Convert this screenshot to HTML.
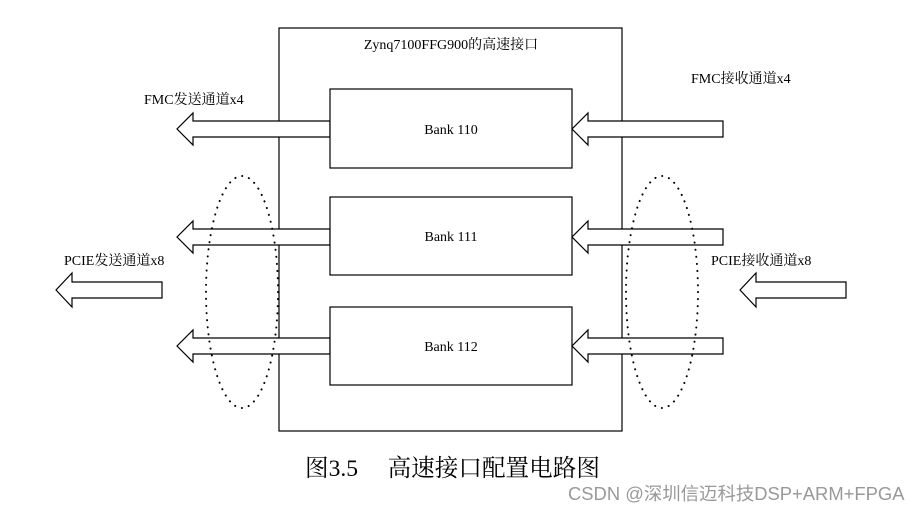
<!DOCTYPE html>
<html><head><meta charset="utf-8"><style>
body{margin:0;background:#fff;}
svg text{font-family:"Liberation Serif","Noto Serif CJK SC",serif;fill:#000;}
</style></head><body>
<svg width="920" height="513" viewBox="0 0 920 513" xmlns="http://www.w3.org/2000/svg">
<g fill="#fff" stroke="#000" stroke-width="1.2">
<rect x="279" y="28" width="343" height="403"/>
<polygon points="330,121 193,121 193,113 177,129 193,145 193,137 330,137"/>
<polygon points="330,229 193,229 193,221 177,237 193,253 193,245 330,245"/>
<polygon points="330,338 193,338 193,330 177,346 193,362 193,354 330,354"/>
<polygon points="162,282 72,282 72,273 56,290 72,307 72,298 162,298"/>
<polygon points="723,121 588,121 588,113 572,129 588,145 588,137 723,137"/>
<polygon points="723,229 588,229 588,221 572,237 588,253 588,245 723,245"/>
<polygon points="723,338 588,338 588,330 572,346 588,362 588,354 723,354"/>
<polygon points="846,282 756,282 756,273 740,290 756,307 756,298 846,298"/>
<rect x="330" y="89" width="242" height="79"/>
<rect x="330" y="197" width="242" height="78"/>
<rect x="330" y="307" width="242" height="78"/>
</g>
<g fill="none" stroke="#000" stroke-width="2" stroke-dasharray="0.1 7" stroke-linecap="round">
<ellipse cx="242" cy="292" rx="36" ry="116"/>
<ellipse cx="662" cy="292" rx="36" ry="116"/>
</g>
<g font-size="14">
<text x="451" y="49" text-anchor="middle">Zynq7100FFG900的高速接口</text>
<text x="451" y="134" text-anchor="middle">Bank 110</text>
<text x="451" y="241" text-anchor="middle">Bank 111</text>
<text x="451" y="351" text-anchor="middle">Bank 112</text>
<text x="144" y="104">FMC发送通道x4</text>
<text x="691" y="83">FMC接收通道x4</text>
<text x="64" y="265">PCIE发送通道x8</text>
<text x="711" y="265">PCIE接收通道x8</text>
</g>
<text x="305" y="476" font-size="23.6">图3.5　 高速接口配置电路图</text>
<text x="568" y="500" font-size="18.4" style="font-family:'Liberation Sans','Noto Sans CJK SC',sans-serif;fill:#999">CSDN @深圳信迈科技DSP+ARM+FPGA</text>
</svg>
</body></html>
